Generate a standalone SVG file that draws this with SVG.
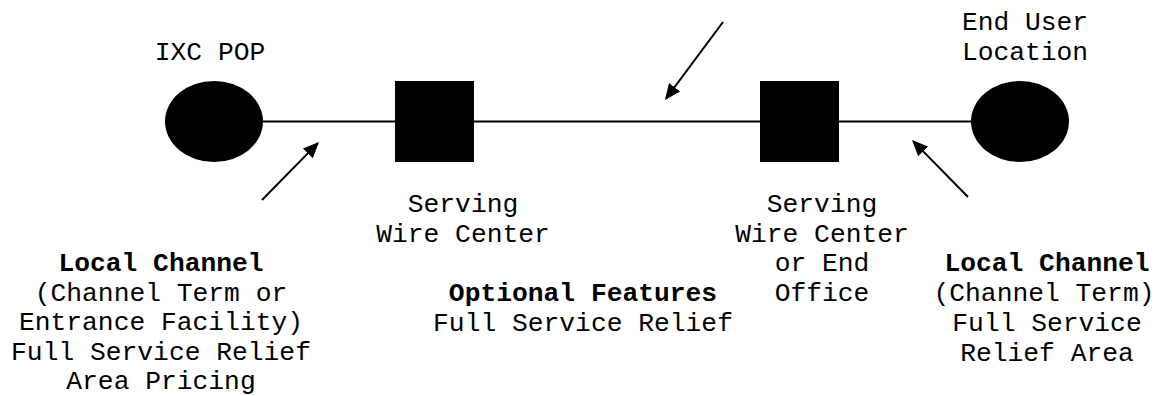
<svg xmlns="http://www.w3.org/2000/svg" width="1156" height="396" viewBox="0 0 1156 396">
<style>
  text { font-family: "Liberation Mono", "Courier New", monospace; font-size: 26.3px; fill: #000; text-anchor: middle; }
  .b { font-weight: bold; }
  .wire { stroke: #000; stroke-width: 2; fill: none; }
  .arrow { stroke: #000; stroke-width: 2; fill: none; marker-end: url(#head); }
  .node { fill: #000; }
</style>
<defs>
  <marker id="head" viewBox="0 0 16 14" refX="14" refY="7" markerWidth="16" markerHeight="14" markerUnits="userSpaceOnUse" orient="auto">
    <path d="M0,0 L16,7 L0,14 z" fill="#000"/>
  </marker>
</defs>
<rect width="1156" height="396" fill="#fff"/>
<g id="connectors">
  <line class="wire" x1="263" y1="121.5" x2="971" y2="121.5"/>
  <line class="arrow" x1="262" y1="200" x2="317.6" y2="143.4"/>
  <line class="arrow" x1="723" y1="22" x2="666.2" y2="98.4"/>
  <line class="arrow" x1="968" y1="197" x2="913.4" y2="141.4"/>
</g>
<g id="ixc-pop">
  <ellipse class="node" cx="214" cy="121.5" rx="49" ry="40.5"/>
  <text x="210" y="60">IXC POP</text>
</g>
<g id="serving-wire-center">
  <rect class="node" x="395" y="81" width="79" height="81"/>
  <text x="463" y="212">Serving</text>
  <text x="463" y="242">Wire Center</text>
</g>
<g id="serving-wire-center-end-office">
  <rect class="node" x="760" y="81" width="79" height="81"/>
  <text x="822" y="212">Serving</text>
  <text x="822" y="242">Wire Center</text>
  <text x="822" y="271">or End</text>
  <text x="822" y="301">Office</text>
</g>
<g id="end-user-location">
  <ellipse class="node" cx="1020" cy="121.5" rx="49" ry="40.5"/>
  <text x="1025" y="30">End User</text>
  <text x="1025" y="60">Location</text>
</g>
<g id="label-local-channel-left">
  <text class="b" x="161" y="271">Local Channel</text>
  <text x="161" y="300.5">(Channel Term or</text>
  <text x="161" y="330">Entrance Facility)</text>
  <text x="161" y="359.5">Full Service Relief</text>
  <text x="161" y="388.5">Area Pricing</text>
</g>
<g id="label-optional-features">
  <text class="b" x="583" y="301">Optional Features</text>
  <text x="583" y="331">Full Service Relief</text>
</g>
<g id="label-local-channel-right">
  <text class="b" x="1047" y="271">Local Channel</text>
  <text x="1044" y="301">(Channel Term)</text>
  <text x="1047" y="331">Full Service</text>
  <text x="1047" y="361">Relief Area</text>
</g>
</svg>
